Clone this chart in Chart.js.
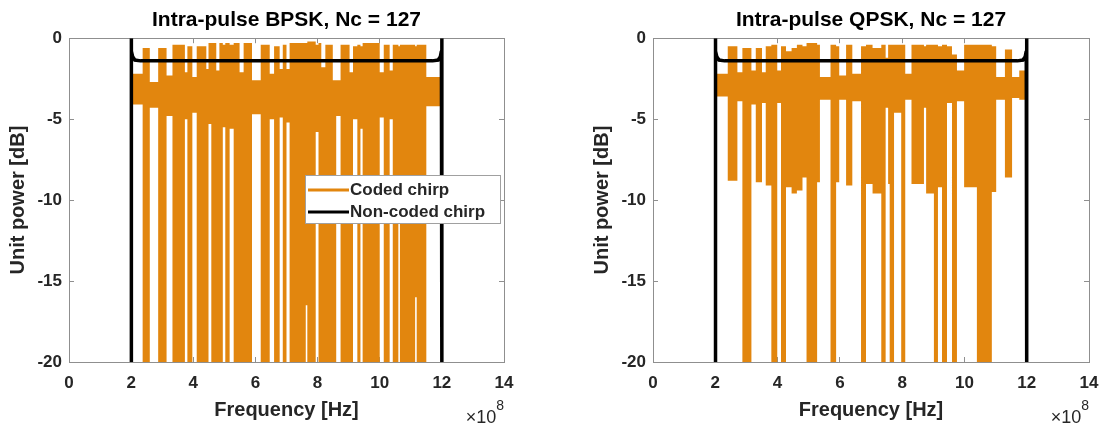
<!DOCTYPE html>
<html>
<head>
<meta charset="utf-8">
<title>Intra-pulse coded chirp spectra</title>
<script src="https://cdn.jsdelivr.net/npm/chart.js@4.4.1/dist/chart.umd.min.js"></script>
<style>
  body { margin: 0; background: #fff; overflow: hidden; }
  .panel { position: absolute; top: 0; width: 519px; height: 426px; }
  #left { left: 0; }
  #right { left: 584px; }
</style>
</head>
<body>
<div class="panel" id="left"><canvas id="bpskChart" width="519" height="426"></canvas></div>
<div class="panel" id="right"><canvas id="qpskChart" width="519" height="426"></canvas></div>
<script>
// Spectrum of the coded chirp, read as bands: edges in 1e8 Hz,
// and for each band the upper and lower level of the trace in dB
const bpskEdges = [2.01, 2.37, 2.60, 2.87, 3.14, 3.33, 3.73, 3.81, 3.97, 4.11, 4.42, 4.49, 4.58, 4.74, 4.84,
    4.95, 5.03, 5.17, 5.30, 5.49, 5.62, 5.89, 6.17, 6.46, 6.60, 6.78, 6.88, 7.00, 7.10, 7.62, 7.67, 7.94,
    8.03, 8.12, 8.25, 8.49, 8.60, 8.74, 9.03, 9.14, 9.28, 9.38, 9.45, 10.00, 10.13, 10.32, 10.42, 10.60,
    10.65, 11.14, 11.19, 11.50, 11.97];
const bpskTop = [-2.2, -0.6, -2.7, -0.6, -2.3, -0.4, -2.1, -0.5, -2.4, -0.5, -1.9, -0.3, -0.3, -2.0, -0.3,
    -0.4, -0.3, -0.4, -0.3, -2.1, -0.3, -2.6, -0.4, -2.2, -0.5, -1.9, -0.4, -1.9, -0.3, -0.3, -0.2,
    -0.4, -0.3, -1.8, -0.4, -2.6, -2.6, -0.4, -2.1, -0.5, -0.4, -0.5, -0.3, -2.1, -0.4, -2.0, -0.4,
    -0.5, -0.4, -0.5, -0.4, -2.4];
const bpskLow = [-4.1, -21, -4.3, -21, -4.8, -21, -5.0, -21, -4.6, -21, -21, -5.3, -21, -21, -21,
    -5.5, -21, -5.6, -21, -21, -21, -4.7, -21, -5.0, -21, -4.9, -21, -5.2, -21, -16.5, -21,
    -5.8, -21, -21, -21, -21, -4.8, -21, -21, -5.0, -21, -5.6, -21, -4.9, -21, -5.0, -21,
    -10, -21, -16, -21, -4.2];

const qpskEdges = [2.01, 2.40, 2.71, 2.87, 3.16, 3.30, 3.50, 3.62, 3.80, 3.99, 4.11, 4.27, 4.45, 4.62, 4.80,
    4.93, 5.27, 5.36, 5.70, 5.88, 5.98, 6.20, 6.40, 6.68, 6.84, 7.05, 7.33, 7.47, 7.55, 7.60, 7.74,
    7.97, 8.10, 8.30, 8.70, 8.77, 9.02, 9.15, 9.28, 9.44, 9.60, 9.76, 9.99, 10.40, 10.88, 11.02,
    11.30, 11.53, 11.76, 11.97];
const qpskTop = [-2.2, -0.5, -2.1, -0.6, -2.0, -0.6, -2.1, -0.5, -0.4, -2.0, -0.5, -0.8, -0.6, -0.4,
    -0.5, -0.3, -0.4, -2.4, -0.4, -0.5, -2.3, -0.4, -2.2, -0.5, -0.4, -0.6, -0.4, -1.2, -0.4, -0.4,
    -0.4, -0.4, -2.2, -0.4, -0.5, -0.4, -0.4, -0.5, -0.4, -0.5, -1.0, -2.0, -0.4, -0.4, -0.5, -2.4,
    -0.7, -2.4, -2.0];
const qpskLow = [-3.6, -8.8, -3.9, -21, -4.1, -8.9, -4.0, -9.1, -21, -4.0, -21, -9.2, -9.6, -9.4,
    -8.6, -21, -8.9, -3.8, -21, -8.9, -3.8, -9.1, -3.9, -21, -9.0, -9.6, -21, -4.3, -9.0, -21,
    -4.6, -21, -3.8, -9.0, -4.3, -9.6, -21, -9.2, -21, -4.0, -21, -3.9, -9.2, -21, -9.5, -3.8,
    -8.6, -3.7, -3.8];

// Non-coded (plain) chirp spectrum
const chirpFreq = [2.0, 2.0, 2.015, 2.05, 2.12, 2.3, 11.7, 11.88, 11.95, 11.985, 12.0, 12.0];
const chirpPower = [-21, 0, -0.8, -1.15, -1.35, -1.4, -1.4, -1.35, -1.15, -0.8, 0, -21];

const freqTicks = [0, 2, 4, 6, 8, 10, 12, 14];
const powerTicks = [0, -5, -10, -15, -20];

const family = "'Liberation Sans', Arial, Helvetica, sans-serif";
const orange = '#E2860E';
const axisGray = '#8f8f8f';
const ink = '#262626';

function stepPoints(edges, values) {
    // last edge repeats the last level so the final band is closed
    return edges.map((x, i) => ({ x: x, y: values[Math.min(i, values.length - 1)] }));
}

function chirpPoints() {
    return chirpFreq.map((x, i) => ({ x: x, y: chirpPower[i] }));
}

// Boxed legend inside the axes
const boxLegend = {
    id: 'boxLegend',
    afterDatasetsDraw(chart, args, opts) {
        if (!opts.items) return;
        const ctx = chart.ctx;
        const area = chart.chartArea;
        const left = area.right - 199, top = 175, w = 195, h = 48;
        ctx.save();
        ctx.fillStyle = '#fff';
        ctx.fillRect(left, top, w, h);
        ctx.strokeStyle = '#a0a0a0';
        ctx.lineWidth = 1;
        ctx.strokeRect(left + 0.5, top + 0.5, w, h);
        ctx.font = 'bold 17px ' + family;
        ctx.textBaseline = 'middle';
        opts.items.forEach((item, i) => {
            const y = top + 15 + i * 22;
            ctx.strokeStyle = item.color;
            ctx.lineWidth = 3;
            ctx.beginPath();
            ctx.moveTo(left + 3, y);
            ctx.lineTo(left + 44, y);
            ctx.stroke();
            ctx.fillStyle = ink;
            ctx.fillText(item.label, left + 45, y);
        });
        ctx.restore();
    }
};

// x10^8 multiplier under the end of the frequency axis
const exponentLabel = {
    id: 'exponentLabel',
    afterDraw(chart) {
        const ctx = chart.ctx;
        const x = chart.scales.x;
        ctx.save();
        ctx.fillStyle = ink;
        ctx.textAlign = 'right';
        ctx.textBaseline = 'alphabetic';
        ctx.font = '14px ' + family;
        const supW = ctx.measureText('8').width;
        ctx.fillText('8', x.right, 410);
        ctx.font = '18px ' + family;
        ctx.fillText('\u00d710', x.right - supW, 423);
        ctx.restore();
    }
};

function makeChart(canvasId, title, edges, top, low, withLegend, padRight) {
    const ctx = document.getElementById(canvasId).getContext('2d');
    const tickFont = { family: family, size: 17, weight: 'bold' };
    const labelFont = { family: family, size: 20, weight: 'bold' };
    const setTicks = (values) => (scale) => { scale.ticks = values.map(v => ({ value: v })); };

    return new Chart(ctx, {
        type: 'line',
        data: {
            datasets: [
                {
                    label: 'Non-coded chirp',
                    data: chirpPoints(),
                    borderColor: '#000',
                    borderWidth: 3.5,
                    pointRadius: 0,
                    fill: false,
                    order: 0
                },
                {
                    label: 'Coded chirp',
                    data: stepPoints(edges, top),
                    stepped: true,
                    borderWidth: 0,
                    pointRadius: 0,
                    backgroundColor: orange,
                    fill: '+1',
                    order: 1
                },
                {
                    label: 'Coded chirp floor',
                    data: stepPoints(edges, low),
                    stepped: true,
                    borderWidth: 0,
                    pointRadius: 0,
                    fill: false,
                    order: 2
                }
            ]
        },
        options: {
            responsive: false,
            animation: false,
            devicePixelRatio: 1,
            layout: { padding: { left: 0, right: padRight, top: 0, bottom: 0 } },
            scales: {
                x: {
                    type: 'linear', axis: 'x', position: 'bottom', min: 0, max: 14,
                    afterBuildTicks: setTicks(freqTicks),
                    afterFit: (s) => { s.height = 64; s.paddingLeft = 0; s.paddingRight = 0; },
                    ticks: { color: ink, font: tickFont, padding: 16, maxRotation: 0 },
                    grid: { drawOnChartArea: false, tickLength: -5, color: axisGray },
                    border: { color: axisGray },
                    title: { display: true, text: 'Frequency [Hz]', color: ink, font: labelFont,
                             padding: { top: 0, bottom: 4 } }
                },
                x2: {
                    type: 'linear', axis: 'x', position: 'top', min: 0, max: 14,
                    afterBuildTicks: setTicks(freqTicks),
                    afterFit: (s) => { s.height = 0; s.paddingLeft = 0; s.paddingRight = 0; },
                    ticks: { display: false },
                    grid: { drawOnChartArea: false, tickLength: -5, color: axisGray },
                    border: { color: axisGray }
                },
                y: {
                    type: 'linear', axis: 'y', position: 'left', min: -20, max: 0,
                    afterBuildTicks: setTicks(powerTicks),
                    afterFit: (s) => { s.width = 69; },
                    ticks: { color: ink, font: tickFont, padding: 12 },
                    grid: { drawOnChartArea: false, tickLength: -5, color: axisGray },
                    border: { color: axisGray },
                    title: { display: true, text: 'Unit power [dB]', color: ink, font: labelFont,
                             padding: { top: 6, bottom: 0 } }
                },
                y2: {
                    type: 'linear', axis: 'y', position: 'right', min: -20, max: 0,
                    afterBuildTicks: setTicks(powerTicks),
                    afterFit: (s) => { s.width = 0; },
                    ticks: { display: false },
                    grid: { drawOnChartArea: false, tickLength: -5, color: axisGray },
                    border: { color: axisGray }
                }
            },
            plugins: {
                legend: { display: false },
                tooltip: { enabled: false },
                title: {
                    display: true,
                    fullSize: false,
                    text: title,
                    color: '#000',
                    font: { family: family, size: 21, weight: 'bold' },
                    padding: { top: 8, bottom: 5 }
                },
                boxLegend: withLegend ? {
                    items: [
                        { label: 'Coded chirp', color: orange },
                        { label: 'Non-coded chirp', color: '#000' }
                    ]
                } : {}
            }
        },
        plugins: [boxLegend, exponentLabel]
    });
}

makeChart('bpskChart', 'Intra-pulse BPSK, Nc = 127', bpskEdges, bpskTop, bpskLow, true, 15);
makeChart('qpskChart', 'Intra-pulse QPSK, Nc = 127', qpskEdges, qpskTop, qpskLow, false, 14);
</script>
</body>
</html>
